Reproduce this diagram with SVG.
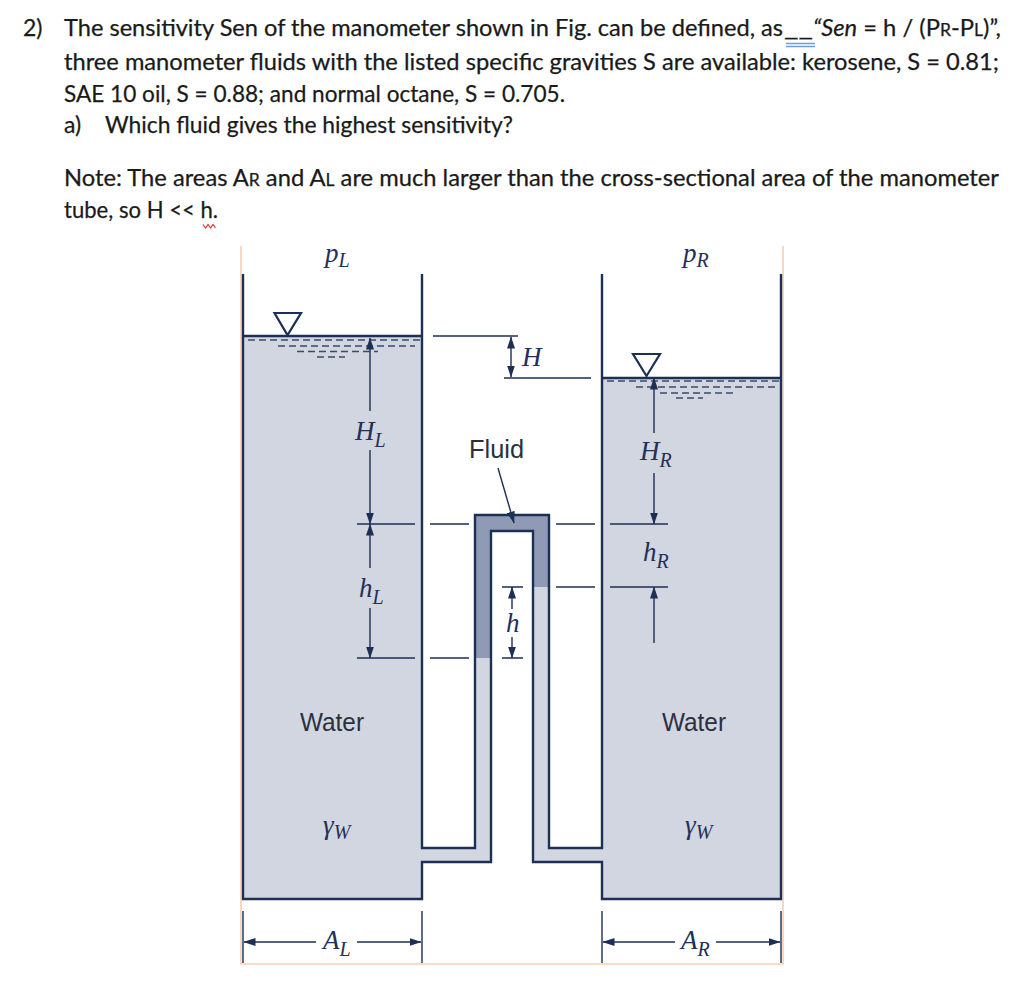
<svg xmlns="http://www.w3.org/2000/svg" width="1024" height="990" viewBox="0 0 1024 990">
<defs>
<marker id="arr" viewBox="0 0 12 8" refX="11.5" refY="4" markerWidth="12" markerHeight="8" markerUnits="userSpaceOnUse" orient="auto-start-reverse"><path d="M0 0L12 4L0 8Z" fill="#1c2f55"/></marker>
</defs>
<style>
.t{font-family:"Lato","Liberation Sans",sans-serif;font-size:23px;fill:#1a1a1a;stroke:#1a1a1a;stroke-width:.25}
.sc{font-size:17px}
.l{font-family:"Liberation Sans",sans-serif;font-size:25px;fill:#2a3040}
.m{font-family:"Liberation Serif",serif;font-style:italic;font-size:27px;fill:#22305a}
.s{font-size:20px}
.w{fill:none;stroke:#1c2f55;stroke-width:2.4}
.d{fill:none;stroke:#1c2f55;stroke-width:1.4}
.das{fill:none;stroke:#3c4a6c;stroke-width:1.4;stroke-dasharray:7 4}
.o{fill:none;stroke:#f8cfb4;stroke-width:1.6}
</style>
<rect width="1024" height="990" fill="#fff"/>
<g id="question">
<text class="t" x="23" y="36">2)</text>
<text class="t" x="64" y="36" textLength="719" lengthAdjust="spacingAndGlyphs">The sensitivity Sen of the manometer shown in Fig. can be defined, as</text>
<text class="t" x="784" y="36" textLength="29" lengthAdjust="spacingAndGlyphs">__</text>
<text class="t" x="813" y="36" textLength="188" lengthAdjust="spacingAndGlyphs"><tspan font-style="italic">“Sen</tspan> = h / (P<tspan class="sc">R</tspan>-P<tspan class="sc">L</tspan>)”,</text>
<path d="M786 43.500H815M786 46.500H815" stroke="#6f9bdc" stroke-width="1.500" fill="none"/>
<text class="t" x="64" y="70" textLength="935" lengthAdjust="spacingAndGlyphs">three manometer fluids with the listed specific gravities S are available: kerosene, S = 0.81;</text>
<text class="t" x="64" y="102" textLength="501" lengthAdjust="spacingAndGlyphs">SAE 10 oil, S = 0.88; and normal octane, S = 0.705.</text>
<text class="t" x="64" y="133">a)</text>
<text class="t" x="105" y="133" textLength="408" lengthAdjust="spacingAndGlyphs">Which fluid gives the highest sensitivity?</text>
<text class="t" x="64" y="186" textLength="935" lengthAdjust="spacingAndGlyphs">Note: The areas A<tspan class="sc">R</tspan> and A<tspan class="sc">L</tspan> are much larger than the cross-sectional area of the manometer</text>
<text class="t" x="64" y="218" textLength="154" lengthAdjust="spacingAndGlyphs">tube, so H &lt;&lt; h.</text>
<path d="M203 224.500l2.500 3.500 2.500-3.500 2.500 3.500 2.500-3.500 2.500 3.500" stroke="#d63a3a" stroke-width="1.200" fill="none"/>
</g>
<g id="frame">
<path class="o" d="M241 246V964H783V246"/>
</g>
<g id="manometer">
<path d="M243 336H422V848H475V515H549V848H602V378H781V899H602V862H533V531H491V862H422V899H243Z" fill="#d2d6e0"/>
<path d="M475 515H549V587H533V531H491V658H475Z" fill="#8f9ab4"/>
<path class="w" d="M243 274V899H422V862H491V531H533V862H602V899H781V274"/>
<path class="w" d="M422 274V848H475V515H549V848H602V274"/>
<path class="w" d="M243 336H422M602 378H781" stroke-width="1.800"/>
</g>
<g id="surface-left">
<path d="M274.500 313H301L287.500 335Z" fill="#fff" stroke="#1c2f55" stroke-width="2.200"/>
<path class="das" d="M248 340H421M278 346H415M297 351.500H378M317 357H345"/>
</g>
<g id="surface-right">
<path d="M633 354H660L646.500 376Z" fill="#fff" stroke="#1c2f55" stroke-width="2.200"/>
<path class="das" d="M607 381H780M636 387H778M660 393H737M676 398H703"/>
</g>
<g id="connectors">
<path class="d" d="M433 336H518M504 378H591"/>
<path class="d" d="M357 524H415M430 524H469M556 524H595M610 524H668"/>
<path class="d" d="M556 587H595M610 587H668"/>
<path class="d" d="M357 658H415M430 658H469M502 587H523M502 658H523"/>
<path class="d" d="M511 337V377" marker-start="url(#arr)" marker-end="url(#arr)"/>
<path class="d" d="M370 411V338" marker-end="url(#arr)"/>
<path class="d" d="M370 450V524" marker-end="url(#arr)"/>
<path class="d" d="M370 568V524" marker-end="url(#arr)"/>
<path class="d" d="M370 608V658" marker-end="url(#arr)"/>
<path class="d" d="M654 433V378" marker-end="url(#arr)"/>
<path class="d" d="M654 473V524" marker-end="url(#arr)"/>
<path class="d" d="M654 643V587" marker-end="url(#arr)"/>
<path class="d" d="M512 609V587" marker-end="url(#arr)"/>
<path class="d" d="M512 637V658" marker-end="url(#arr)"/>
<path class="d" d="M498 468L514 523" marker-end="url(#arr)" stroke-width="1.600"/>
<path class="d" d="M243 911V963M422 911V963M602 911V963M781 911V963"/>
<path class="d" d="M316 942H244" marker-end="url(#arr)"/>
<path class="d" d="M357 942H421" marker-end="url(#arr)"/>
<path class="d" d="M675 942H603" marker-end="url(#arr)"/>
<path class="d" d="M716 942H780" marker-end="url(#arr)"/>
</g>
<g id="labels">
<text class="m" x="325" y="262">p<tspan class="s" dy="5">L</tspan></text>
<text class="m" x="683" y="262">p<tspan class="s" dy="5">R</tspan></text>
<text class="m" x="355" y="440">H<tspan class="s" dy="7">L</tspan></text>
<text class="m" x="640" y="460">H<tspan class="s" dy="7">R</tspan></text>
<text class="m" x="359" y="597">h<tspan class="s" dy="7">L</tspan></text>
<text class="m" x="643" y="561">h<tspan class="s" dy="7">R</tspan></text>
<text class="m" x="522" y="366">H</text>
<text class="m" x="506" y="632" font-size="24">h</text>
<text class="l" x="469" y="458" textLength="55" lengthAdjust="spacingAndGlyphs">Fluid</text>
<text class="l" x="300" y="731" textLength="64" lengthAdjust="spacingAndGlyphs">Water</text>
<text class="l" x="662" y="731" textLength="64" lengthAdjust="spacingAndGlyphs">Water</text>
<text class="m" x="323" y="834">γ<tspan class="s" dy="5">W</tspan></text>
<text class="m" x="685" y="834">γ<tspan class="s" dy="5">W</tspan></text>
<text class="m" x="323" y="949">A<tspan class="s" dy="7">L</tspan></text>
<text class="m" x="681" y="949">A<tspan class="s" dy="7">R</tspan></text>
</g>
</svg>
